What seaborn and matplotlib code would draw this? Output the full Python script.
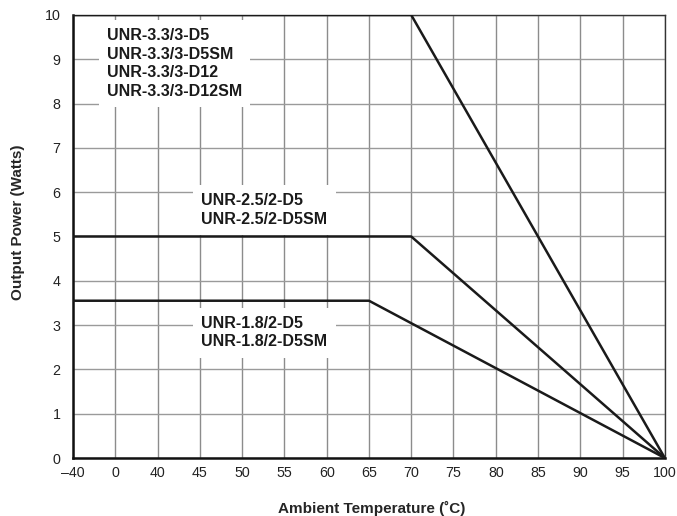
"""Output power derating curves for the UNR series."""
import numpy as np
import pandas as pd
import matplotlib
matplotlib.use("Agg")
import matplotlib.pyplot as plt
import seaborn as sns

# ── data ──────────────────────────────────────────────────────────────────────
TEMP_TICKS = [-40, 0, 40, 45, 50, 55, 60, 65, 70, 75, 80, 85, 90, 95, 100]
TICK_LABELS = ["\u201340"] + [str(t) for t in TEMP_TICKS[1:]]
POWER_TICKS = list(range(0, 11))

MODELS = ["UNR-3.3/3", "UNR-2.5/2", "UNR-1.8/2"]
TEMP_33 = [-40, 70, 100]
POWER_33 = [10, 10, 0]
TEMP_25 = [-40, 70, 100]
POWER_25 = [5, 5, 0]
TEMP_18 = [-40, 65, 100]
POWER_18 = [3.55, 3.55, 0]

LABEL_33 = "UNR-3.3/3-D5\nUNR-3.3/3-D5SM\nUNR-3.3/3-D12\nUNR-3.3/3-D12SM"
LABEL_25 = "UNR-2.5/2-D5\nUNR-2.5/2-D5SM"
LABEL_18 = "UNR-1.8/2-D5\nUNR-1.8/2-D5SM"

# the x axis is not linear: every tick is one equal step
def pos(t):
    return TEMP_TICKS.index(t)

rows = []
for m, ts, ps in zip(MODELS, [TEMP_33, TEMP_25, TEMP_18], [POWER_33, POWER_25, POWER_18]):
    for t, p in zip(ts, ps):
        rows.append({"model": m, "x": pos(t), "power": p})
df = pd.DataFrame(rows)

# ── style ─────────────────────────────────────────────────────────────────────
sns.set_style("white")
plt.rcParams["font.family"] = ["Liberation Sans", "DejaVu Sans"]

fig = plt.figure(figsize=(6.77, 5.16), dpi=100)
ax = fig.add_axes([0.108, 0.1124, 0.874, 0.8586])

# grid
for i in range(len(TEMP_TICKS)):
    ax.axvline(i, color="#8c8c8c", lw=1.0, zorder=1)
for v in POWER_TICKS:
    ax.axhline(v, color="#9a9a9a", lw=1.0, zorder=1)

sns.lineplot(data=df, x="x", y="power", units="model", estimator=None,
             color="#1a1a1a", lw=1.8, ax=ax, zorder=5, sort=False)

ax.set_xlim(0, len(TEMP_TICKS) - 1)
ax.set_ylim(0, 10)
ax.set_xticks(range(len(TEMP_TICKS)))
ax.set_xticklabels(TICK_LABELS, fontsize=10.3, color="#222222")
ax.set_yticks(POWER_TICKS)
ax.set_yticklabels([str(v) for v in POWER_TICKS], fontsize=10.3, color="#222222")
ax.tick_params(axis="both", length=0)
ax.tick_params(axis="x", pad=6)
ax.tick_params(axis="y", pad=9)

ax.set_xlabel("Ambient Temperature (\u02daC)", fontsize=11, fontweight="bold")
ax.set_ylabel("Output Power (Watts)", fontsize=11, fontweight="bold")
ax.xaxis.set_label_coords(0.504, -0.097)
ax.yaxis.set_label_coords(-0.082, 0.533)

for side in ["left", "bottom"]:
    ax.spines[side].set_color("#111111")
    ax.spines[side].set_linewidth(1.8)
for side in ["top", "right"]:
    ax.spines[side].set_color("#333333")
    ax.spines[side].set_linewidth(1.0)

box = dict(facecolor="white", edgecolor="none", pad=6)
ax.text(0.8, 8.9, LABEL_33, fontsize=11.5, fontweight="bold", color="#1a1a1a",
        ha="left", va="center", linespacing=1.3, bbox=box, zorder=3)
ax.text(3.03, 5.6, LABEL_25, fontsize=11.5, fontweight="bold", color="#1a1a1a",
        ha="left", va="center", linespacing=1.3, bbox=box, zorder=3)
ax.text(3.03, 2.83, LABEL_18, fontsize=11.5, fontweight="bold", color="#1a1a1a",
        ha="left", va="center", linespacing=1.3, bbox=box, zorder=3)

if ax.get_legend():
    ax.get_legend().remove()

fig.savefig("out.png", dpi=100)
